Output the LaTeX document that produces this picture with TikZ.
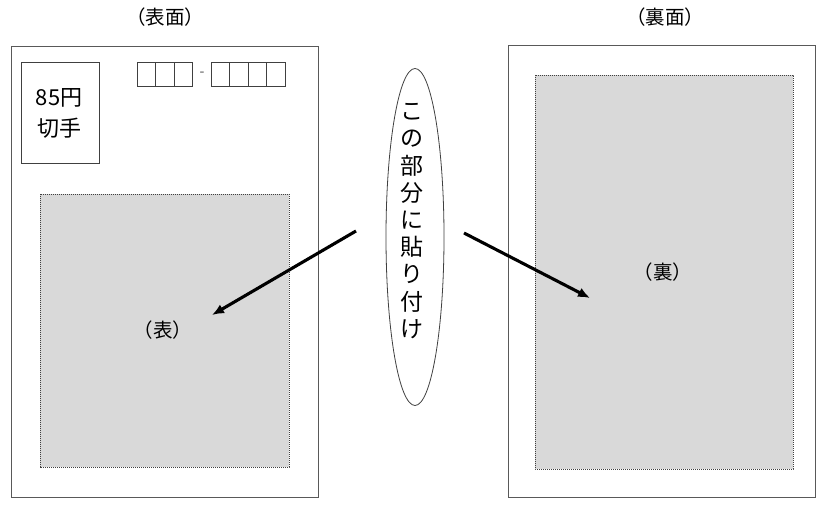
\documentclass[tikz,border=0pt]{standalone}
\usepackage{fontspec}
\setmainfont{Noto Sans CJK JP}
\usetikzlibrary{shapes.geometric, positioning, arrows.meta}

\tikzset{
  card/.style={draw=black!65, line width=1pt},
  pastearea/.style={draw=black!75, fill=black!15, line width=0.7pt, dash pattern=on 1.2pt off 0.8pt},
  thinbox/.style={draw=black!75, line width=0.8pt},
  caption/.style={font=\fontsize{19.5}{22}\selectfont, inner sep=0pt},
  pastearrow/.style={-{Latex[length=12pt,width=10pt]}, line width=3.1pt},
}

\begin{document}
\begin{tikzpicture}[x=1pt, y=-1pt]
  \fill[white] (0,0) rectangle (830,510);
  \useasboundingbox (0,0) rectangle (830,510);

  % front side
  \node[caption] (fronttitle) at (165,17) {（表面）};
  \draw[card] (11,47) rectangle (318,497);
  \draw[pastearea] (40,194) rectangle (289,467);
  \draw[thinbox] (21,62) rectangle (99,163);
  \node[font=\fontsize{22}{31}\selectfont, align=center, inner sep=0pt] (stamp) at (59,113) {85円\\切手};
  \foreach \i in {0,1,2}
    \draw[thinbox] (137+18.6*\i,62) rectangle ++(18.6,24);
  \node[font=\fontsize{14}{16}\selectfont, inner sep=0pt, text=black!70] (zipdash) at (202,74) {-};
  \foreach \i in {0,...,3}
    \draw[thinbox] (211+18.5*\i,62) rectangle ++(18.5,24);
  \node[caption] (frontlabel) at (163,330) {（表）};

  % back side
  \node[caption] (backtitle) at (665,17) {（裏面）};
  \draw[card] (508,46) rectangle (815,497);
  \draw[pastearea] (535,75) rectangle (793,469);
  \node[caption] (backlabel) at (663,272) {（裏）};

  % balloon
  \node[ellipse, draw=black!75, line width=0.8pt, minimum width=58pt, minimum height=337pt] (bubble) at (415,237) {};
  \node[font=\fontsize{23}{27.2}\selectfont, align=center, inner sep=0pt] (pastehere) at (412,221)
    {こ\\の\\部\\分\\に\\貼\\り\\付\\け};

  \coordinate (fromleft) at (356,231);
  \coordinate (toleft) at (212,315);
  \coordinate (fromright) at (464,233);
  \coordinate (toright) at (590,298);
  \draw[pastearrow] (fromleft) -- (toleft);
  \draw[pastearrow] (fromright) -- (toright);
\end{tikzpicture}
\end{document}
